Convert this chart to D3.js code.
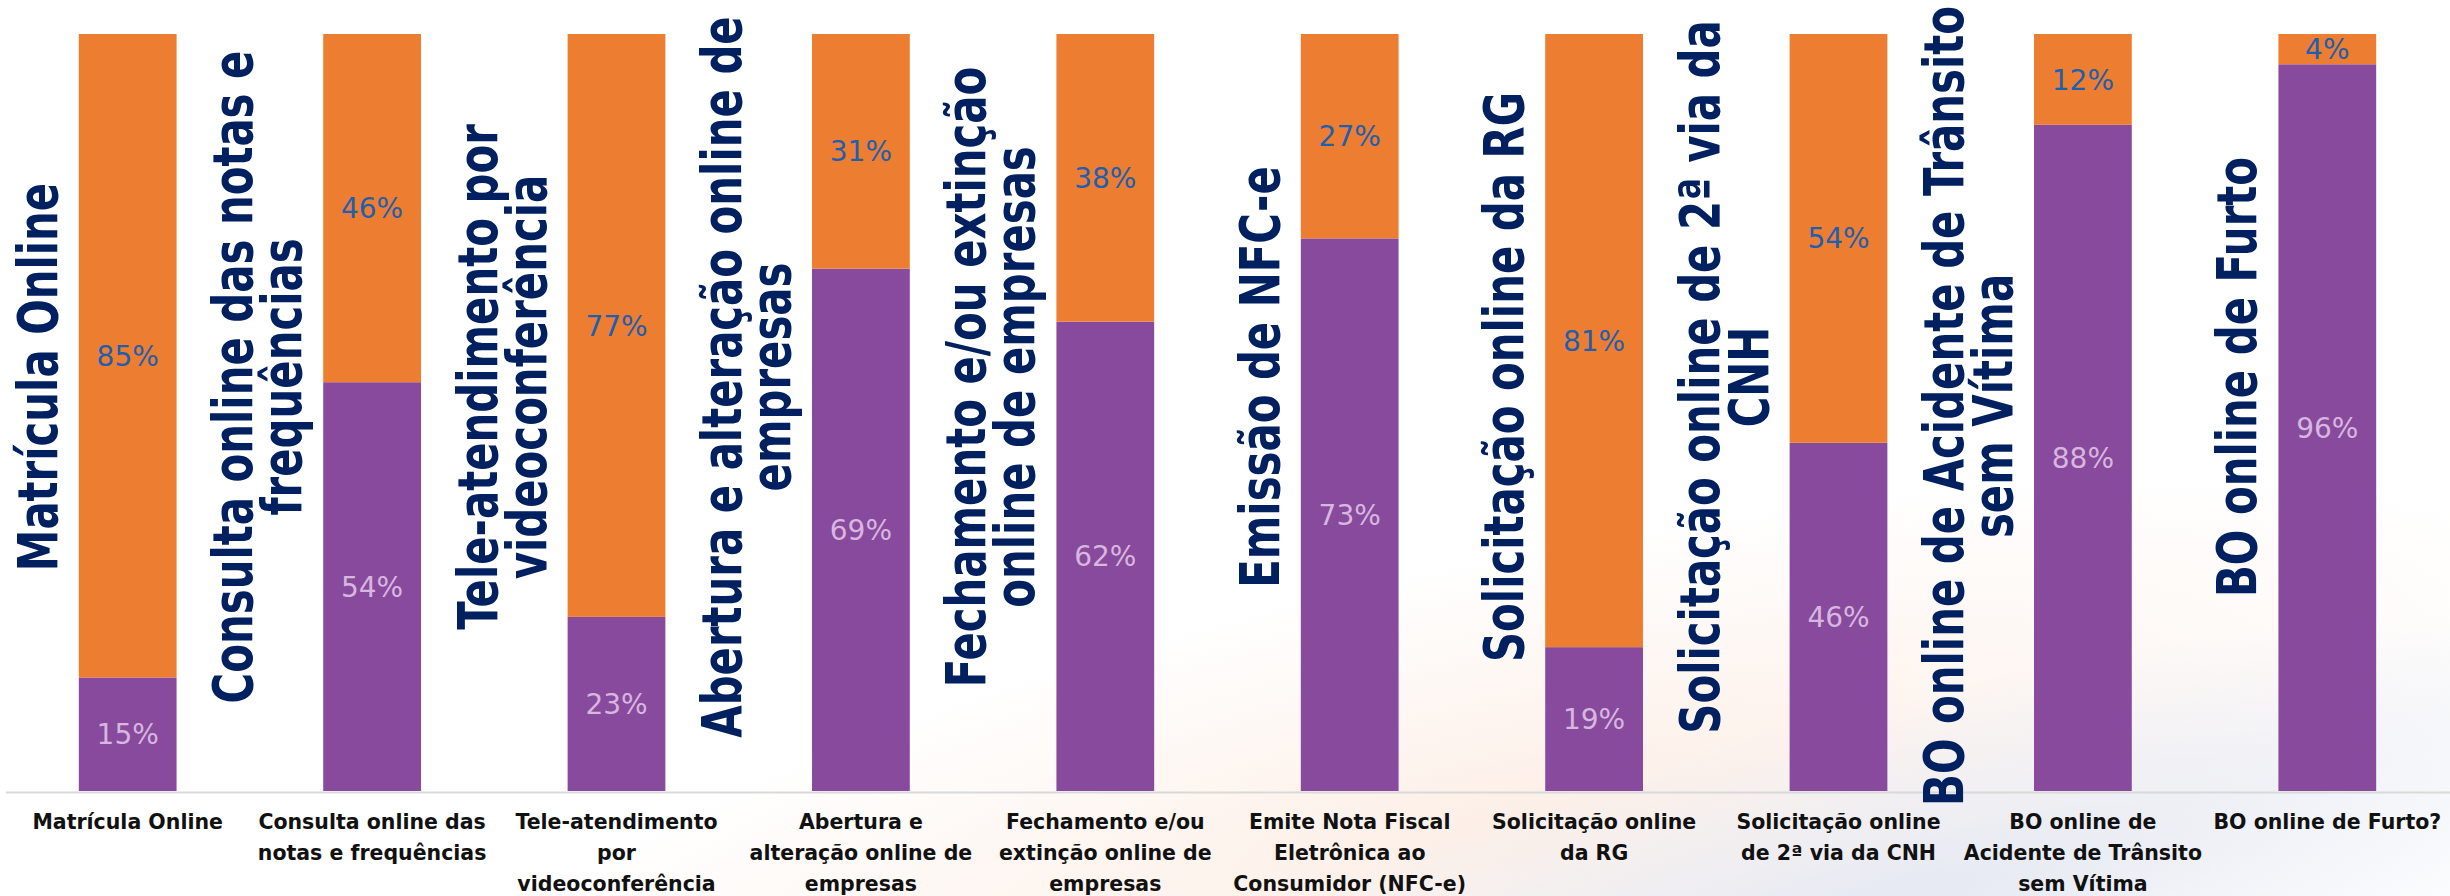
<!DOCTYPE html>
<html lang="pt">
  <head>
    <meta charset="UTF-8" />
    <title>Serviços online</title>
    <style>
      body {
        margin: 0;
        background: #ffffff;
      }
      svg {
        display: block;
      }
    </style>
  </head>
  <body>
    <svg id="svg" width="2450" height="896"></svg>
    <script src="https://cdn.jsdelivr.net/npm/d3@7"></script>
    <script>
      // DATA
      const categories = [
        ["Matrícula Online"],
        ["Consulta online das", "notas e frequências"],
        ["Tele-atendimento", "por", "videoconferência"],
        ["Abertura e", "alteração online de", "empresas"],
        ["Fechamento e/ou", "extinção online de", "empresas"],
        ["Emite Nota Fiscal", "Eletrônica ao", "Consumidor (NFC-e)"],
        ["Solicitação online", "da RG"],
        ["Solicitação online", "de 2ª via da CNH"],
        ["BO online de", "Acidente de Trânsito", "sem Vítima"],
        ["BO online de Furto?"],
      ];
      const titles = [
        ["Matrícula Online"],
        ["Consulta online das notas e", "frequências"],
        ["Tele-atendimento por", "videoconferência"],
        ["Abertura e alteração online de", "empresas"],
        ["Fechamento e/ou extinção", "online de empresas"],
        ["Emissão de NFC-e"],
        ["Solicitação online da RG"],
        ["Solicitação online de 2ª via da", "CNH"],
        ["BO online de Acidente de Trânsito", "sem Vítima"],
        ["BO online de Furto"],
      ];
      const purpleValues = [15, 54, 23, 69, 62, 73, 19, 46, 88, 96];
      const orangeValues = [85, 46, 77, 31, 38, 27, 81, 54, 12, 4];

      // CONSTANTS
      const WIDTH = 2450;
      const HEIGHT = 896;
      const TOP = 34;
      const BASE = 791;
      const PURPLE = "#874a9c";
      const ORANGE = "#ed7d31";
      const TITLE_SIZE = 56;
      const TITLE_LINE = 49;
      const TITLE_SQUEEZE = 0.83;
      const TITLE_MID = 377;

      const rows = purpleValues.map((p, i) => ({
        idx: i,
        purple: p,
        orange: orangeValues[i],
      }));

      const svg = d3.select("#svg");

      // faint background swooshes
      const defs = svg.append("defs");
      const g1 = defs
        .append("radialGradient")
        .attr("id", "peach")
        .attr("cx", "50%")
        .attr("cy", "50%")
        .attr("r", "50%");
      g1.append("stop").attr("offset", "0%").attr("stop-color", "#fbe4d6").attr("stop-opacity", 0.6);
      g1.append("stop").attr("offset", "100%").attr("stop-color", "#fbe4d6").attr("stop-opacity", 0);
      const g2 = defs
        .append("radialGradient")
        .attr("id", "bluish")
        .attr("cx", "50%")
        .attr("cy", "50%")
        .attr("r", "50%");
      g2.append("stop").attr("offset", "0%").attr("stop-color", "#e3e7f2").attr("stop-opacity", 0.9);
      g2.append("stop").attr("offset", "100%").attr("stop-color", "#e3e7f2").attr("stop-opacity", 0);

      const bg = svg.append("g");
      bg.append("ellipse")
        .attr("cx", 1500)
        .attr("cy", 820)
        .attr("rx", 1100)
        .attr("ry", 260)
        .attr("transform", "rotate(-12 1500 820)")
        .attr("fill", "url(#peach)");
      bg.append("ellipse")
        .attr("cx", 1900)
        .attr("cy", 900)
        .attr("rx", 900)
        .attr("ry", 200)
        .attr("transform", "rotate(-14 1900 900)")
        .attr("fill", "url(#bluish)");

      // scales
      const x = d3
        .scaleBand()
        .domain(d3.range(categories.length))
        .range([5.5, WIDTH - 0.5])
        .paddingInner(0.6)
        .paddingOuter(0.3);

      const y = d3.scaleLinear().domain([0, 100]).range([BASE, TOP]);

      const stack = d3.stack().keys(["purple", "orange"]);
      const series = stack(rows);

      // axis line
      const axis = svg
        .append("g")
        .attr("transform", `translate(0, ${BASE + 1})`)
        .call(d3.axisBottom(x).tickSize(0).tickFormat(""));
      axis.select(".domain").attr("stroke", "#d9d9d9").attr("stroke-width", 2);

      // bars
      const layers = svg
        .selectAll("g.layer")
        .data(series)
        .enter()
        .append("g")
        .attr("class", "layer")
        .attr("fill", (d) => (d.key === "purple" ? PURPLE : ORANGE));

      layers
        .selectAll("rect")
        .data((d) => d)
        .enter()
        .append("rect")
        .attr("x", (d) => x(d.data.idx))
        .attr("y", (d) => y(d[1]))
        .attr("width", x.bandwidth())
        .attr("height", (d) => y(d[0]) - y(d[1]));

      // value labels
      layers
        .selectAll("text")
        .data((d) => d.map((v) => ({ v, key: d.key })))
        .enter()
        .append("text")
        .attr("x", (d) => x(d.v.data.idx) + x.bandwidth() / 2)
        .attr("y", (d) => (y(d.v[0]) + y(d.v[1])) / 2)
        .attr("dy", "0.36em")
        .attr("text-anchor", "middle")
        .style("font-family", "'DejaVu Sans', sans-serif")
        .style("font-size", "28px")
        .attr("fill", (d) => (d.key === "purple" ? "#d7b6df" : "#1f5fae"))
        .text((d) => `${d.v.data[d.key]}%`);

      // big rotated titles (read bottom to top, just left of each bar)
      const titleGroups = svg
        .selectAll("g.title")
        .data(titles)
        .enter()
        .append("g")
        .attr("class", "title");

      titleGroups
        .selectAll("text")
        .data((d) => d.map((t, k) => ({ t, k, n: d.length })))
        .enter()
        .append("text")
        .attr("x", 0)
        .attr("y", (d) => -(d.n - 1 - d.k) * TITLE_LINE)
        .attr("text-anchor", "middle")
        .style("font-family", "'Liberation Sans Narrow', 'DejaVu Sans Condensed', sans-serif")
        .style("font-stretch", "condensed")
        .style("font-weight", "bold")
        .style("font-size", `${TITLE_SIZE}px`)
        .attr("fill", "#002060")
        .text((d) => d.t);

      // keep long titles inside the top edge
      titleGroups.attr("transform", function (d, i) {
        const longest = d3.max(
          d3.select(this).selectAll("text").nodes(),
          (n) => n.getComputedTextLength()
        );
        const half = (longest * TITLE_SQUEEZE) / 2;
        const mid = Math.max(TITLE_MID, half + 6);
        return `translate(${x(i) - 22}, ${mid}) rotate(-90) scale(${TITLE_SQUEEZE}, 1)`;
      });

      // category labels under the axis
      const catGroups = svg
        .selectAll("g.cat")
        .data(categories)
        .enter()
        .append("g")
        .attr("class", "cat")
        .attr("transform", (d, i) => `translate(${x(i) + x.bandwidth() / 2}, 829)`);

      catGroups
        .selectAll("text")
        .data((d) => d)
        .enter()
        .append("text")
        .attr("x", 0)
        .attr("y", (d, k) => k * 31)
        .attr("text-anchor", "middle")
        .style("font-family", "'DejaVu Sans', sans-serif")
        .style("font-weight", "bold")
        .style("font-size", "20.5px")
        .attr("fill", "#111111")
        .text((d) => d);
    </script>
  </body>
</html>
